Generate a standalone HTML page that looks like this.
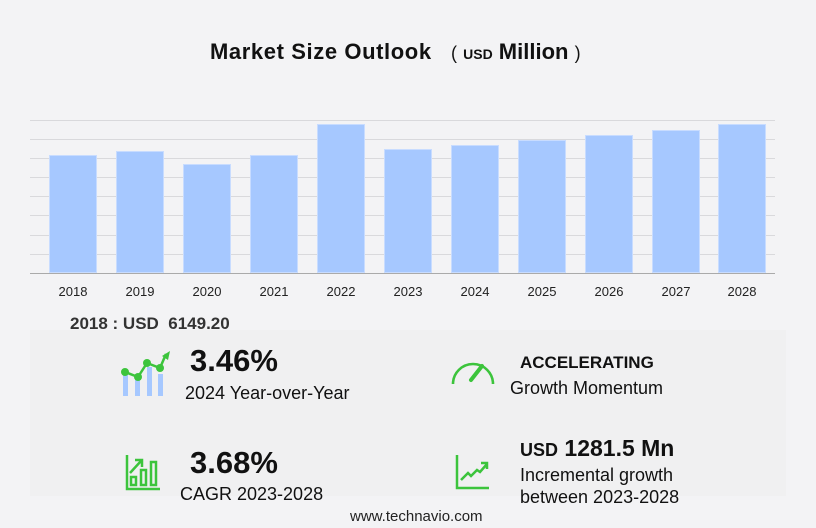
<!DOCTYPE html>
<html><head><meta charset="utf-8"><style>
body{margin:0;width:816px;height:528px;background:#f3f3f5;font-family:"Liberation Sans","DejaVu Sans",sans-serif;position:relative;overflow:hidden;color:#111}
.a{position:absolute;white-space:nowrap}
.g{position:absolute;left:30px;width:745px;height:1px;background:#d9d9dc}
.b{position:absolute;width:48px;background:#a6c8ff;border:1px solid #c8dcff;box-sizing:border-box}
.x{position:absolute;top:284px;width:60px;text-align:center;font-size:13px;color:#222}
</style></head><body>
<div style="position:absolute;left:30px;top:330px;width:756px;height:166px;background:#f0f0f1"></div>
<div class="a" style="left:210px;top:39px;font-size:22px;font-weight:bold;letter-spacing:0.6px">Market Size Outlook</div>
<div class="a" style="left:451px;top:39px;font-size:22px;font-weight:bold"><span style="font-weight:normal;font-size:18px">(</span> <span style="font-size:14px">USD</span> Million <span style="font-weight:normal;font-size:18px">)</span></div>
<div class="g" style="top:120px"></div><div class="g" style="top:139px"></div><div class="g" style="top:158px"></div><div class="g" style="top:177px"></div><div class="g" style="top:196px"></div><div class="g" style="top:215px"></div><div class="g" style="top:235px"></div><div class="g" style="top:254px"></div>
<div class="g" style="top:273px;background:#aaa"></div>
<div class="b" style="left:49px;top:155px;height:118px"></div>
<div class="b" style="left:116px;top:151px;height:122px"></div>
<div class="b" style="left:183px;top:164px;height:109px"></div>
<div class="b" style="left:250px;top:155px;height:118px"></div>
<div class="b" style="left:317px;top:124px;height:149px"></div>
<div class="b" style="left:384px;top:149px;height:124px"></div>
<div class="b" style="left:451px;top:145px;height:128px"></div>
<div class="b" style="left:518px;top:140px;height:133px"></div>
<div class="b" style="left:585px;top:135px;height:138px"></div>
<div class="b" style="left:652px;top:130px;height:143px"></div>
<div class="b" style="left:718px;top:124px;height:149px"></div>
<div class="x" style="left:43px">2018</div><div class="x" style="left:110px">2019</div><div class="x" style="left:177px">2020</div><div class="x" style="left:244px">2021</div><div class="x" style="left:311px">2022</div><div class="x" style="left:378px">2023</div><div class="x" style="left:445px">2024</div><div class="x" style="left:512px">2025</div><div class="x" style="left:579px">2026</div><div class="x" style="left:646px">2027</div><div class="x" style="left:712px">2028</div>
<div class="a" style="left:70px;top:314px;font-size:17px;font-weight:bold;color:#333">2018 : USD&nbsp; 6149.20</div>
<svg class="a" style="left:118px;top:350px" width="54" height="48"><g fill="#a6c8ff"><rect x="5" y="25" width="5" height="21"/><rect x="17" y="30" width="5" height="16"/><rect x="29" y="17" width="5" height="29"/><rect x="40" y="24" width="5" height="22"/></g><polyline points="7,22 20,27 29,13 42,18 48,4" fill="none" stroke="#3cc43c" stroke-width="2.5"/><g fill="#3cc43c"><circle cx="7" cy="22" r="4"/><circle cx="20" cy="27" r="4"/><circle cx="29" cy="13" r="4"/><circle cx="42" cy="18" r="4"/><polygon points="44,6 52,1 50,10"/></g></svg>
<div class="a" style="left:190px;top:343px;font-size:31px;font-weight:bold">3.46%</div>
<div class="a" style="left:185px;top:383px;font-size:18px">2024 Year-over-Year</div>
<svg class="a" style="left:125px;top:455px" width="36" height="36" fill="none" stroke="#3cc43c" stroke-width="2.5"><path d="M2,0V34H35"/><rect x="6" y="22" width="5" height="8"/><rect x="16" y="15" width="5" height="15"/><rect x="26" y="7" width="5" height="23"/><path d="M5,18L16,6M10,5H17V12"/></svg>
<div class="a" style="left:190px;top:445px;font-size:31px;font-weight:bold">3.68%</div>
<div class="a" style="left:180px;top:484px;font-size:18px">CAGR 2023-2028</div>
<svg class="a" style="left:450px;top:358px" width="46" height="28" fill="none" stroke="#3cc43c" stroke-width="2.6"><path d="M3,26A20,20 0 0 1 43,26"/><path d="M32,8L21,22" stroke-width="4" stroke-linecap="round"/></svg>
<div class="a" style="left:520px;top:353px;font-size:17px;font-weight:bold">ACCELERATING</div>
<div class="a" style="left:510px;top:378px;font-size:18px">Growth Momentum</div>
<svg class="a" style="left:455px;top:455px" width="36" height="36" fill="none" stroke="#3cc43c" stroke-width="2.5"><path d="M2,0V33H34"/><path d="M6,25L13,18L16,21L22,15L25,17L32,9M26,8H32V14"/></svg>
<div class="a" style="left:520px;top:435px;font-size:23px;font-weight:bold"><span style="font-size:18px">USD</span> 1281.5 Mn</div>
<div class="a" style="left:520px;top:465px;font-size:18px">Incremental growth</div>
<div class="a" style="left:520px;top:487px;font-size:18px">between 2023-2028</div>
<div class="a" style="left:350px;top:508px;font-size:15px;color:#222">www.technavio.com</div>
</body></html>
